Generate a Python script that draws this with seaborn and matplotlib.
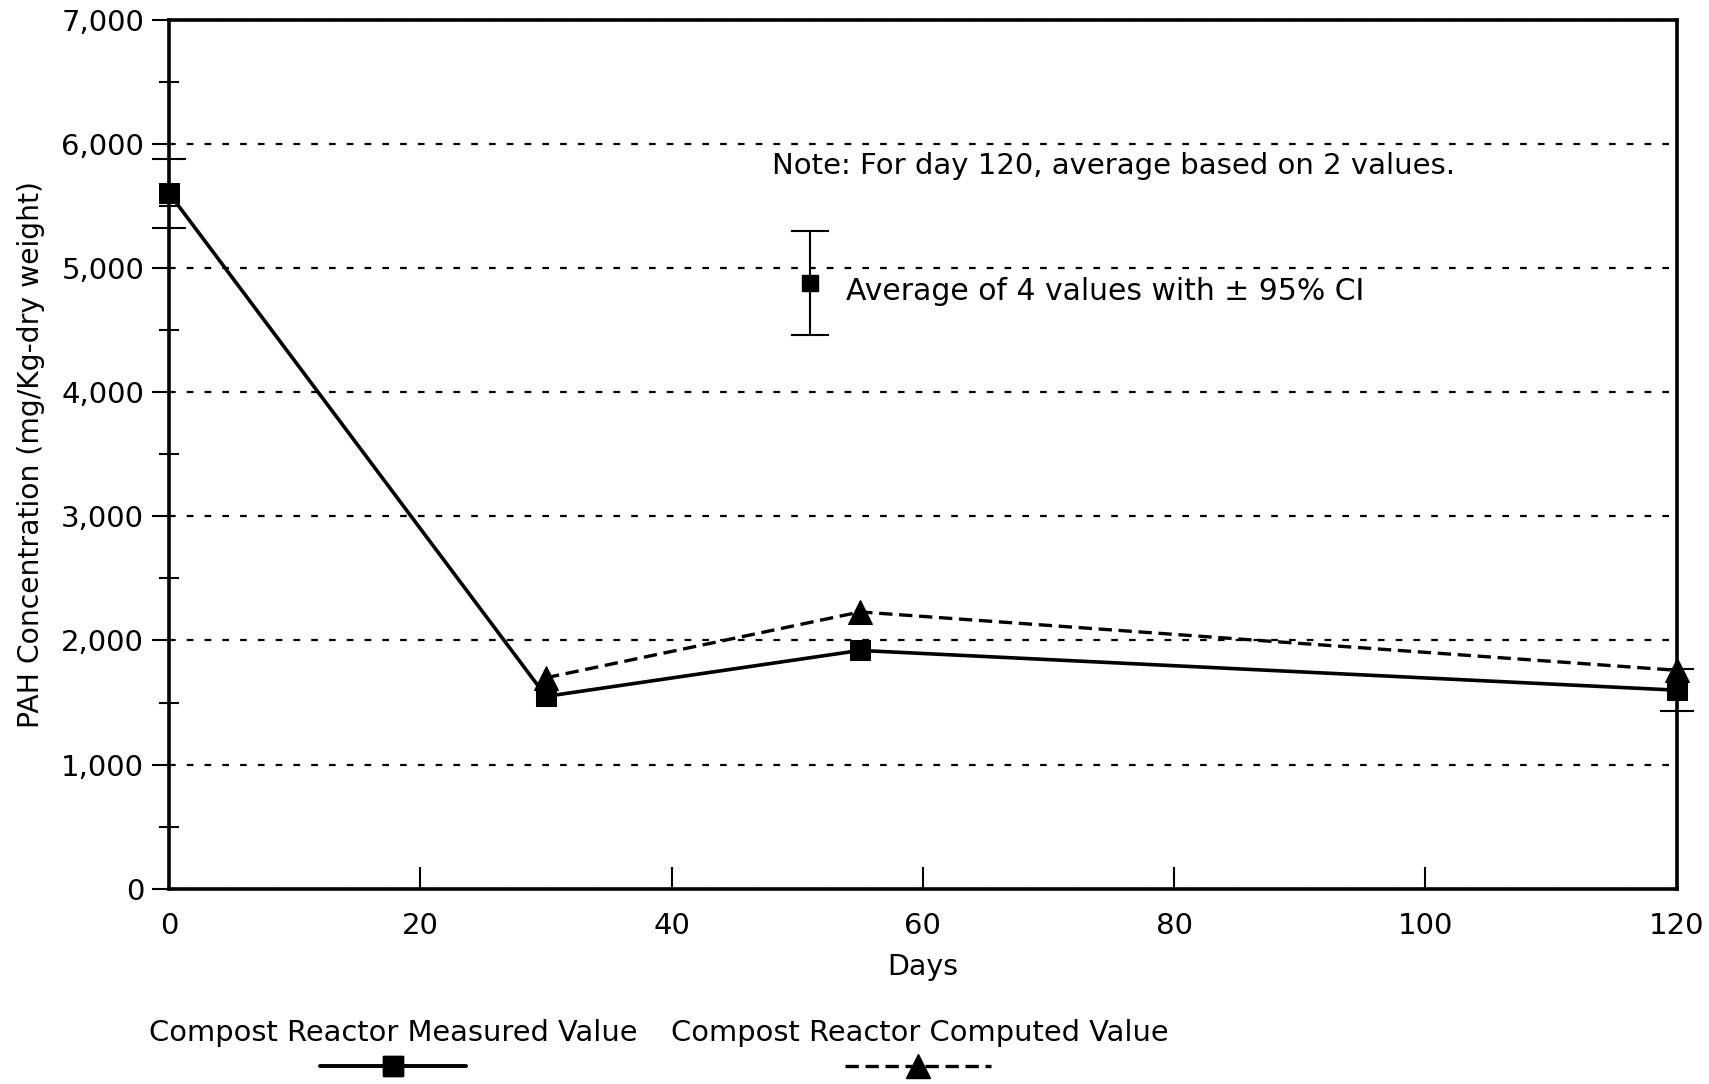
import matplotlib
matplotlib.use('Agg')
import matplotlib.pyplot as plt
from matplotlib.lines import Line2D
from matplotlib.ticker import MultipleLocator, FuncFormatter
import seaborn as sns
import pandas as pd

# data
days_measured = [0, 30, 55, 120]
pah_measured = [5600, 1550, 1920, 1600]
days_computed = [30, 55, 120]
pah_computed = [1700, 2230, 1760]

# 95% CI error bars that show outside the markers
ci_days = [0, 120]
ci_values = [5600, 1600]
ci_half = [280, 170]

# sample error bar used as a key
key_day = [51]
key_value = [4880]
key_half = [420]

note_text = "Note: For day 120, average based on 2 values."
key_text = "Average of 4 values with \u00b1 95% CI"
label_measured = "Compost Reactor Measured Value"
label_computed = "Compost Reactor Computed Value"

sns.set_style('ticks')
plt.rcParams['font.family'] = ['DejaVu Sans']
plt.rcParams['text.color'] = 'black'
plt.rcParams['axes.labelcolor'] = 'black'
plt.rcParams['xtick.color'] = 'black'
plt.rcParams['ytick.color'] = 'black'

measured = pd.DataFrame({'day': days_measured, 'pah': pah_measured})
computed = pd.DataFrame({'day': days_computed, 'pah': pah_computed})

fig = plt.figure(figsize=(17.09, 10.84), dpi=100)
ax = fig.add_axes([0.099, 0.180, 0.882, 0.802])

ax.yaxis.grid(True, color='black', linestyle=(0, (3, 5)), linewidth=1.6)
ax.set_axisbelow(True)

sns.lineplot(data=computed, x='day', y='pah', ax=ax, color='black',
             linewidth=2.4, linestyle=(0, (4, 2)), marker='^', markersize=17,
             markeredgecolor='black', clip_on=False, zorder=3)
sns.lineplot(data=measured, x='day', y='pah', ax=ax, color='black',
             linewidth=2.6, marker='s', markersize=14,
             markeredgecolor='black', clip_on=False, zorder=4)

ax.errorbar(ci_days, ci_values, yerr=ci_half, fmt='none', ecolor='black',
            elinewidth=1.5, capsize=12, capthick=1.5, clip_on=False, zorder=5)
ax.errorbar(key_day, key_value, yerr=key_half, fmt='s', color='black',
            markersize=12, elinewidth=1.5, capsize=14, capthick=1.5)

ax.text(48, 5820, note_text, fontsize=21, va='center', ha='left')
ax.text(53.9, 4810, key_text, fontsize=21.5, va='center', ha='left')

ax.set_xlim(0, 120)
ax.set_ylim(0, 7000)
ax.xaxis.set_major_locator(MultipleLocator(20))
ax.yaxis.set_major_locator(MultipleLocator(1000))
ax.yaxis.set_minor_locator(MultipleLocator(500))
ax.yaxis.set_major_formatter(FuncFormatter(lambda v, p: f"{int(v):,}"))

ax.tick_params(axis='x', direction='in', length=16, width=1.5, labelsize=21, pad=17)
ax.tick_params(axis='y', which='major', direction='out', length=12, width=1.5, labelsize=21, pad=6)
ax.tick_params(axis='y', which='minor', direction='inout', length=14, width=1.5)

for s in ax.spines.values():
    s.set_linewidth(2.6)
    s.set_color('black')

ax.set_xlabel('Days', fontsize=20.5, labelpad=9)
ax.set_ylabel('PAH Concentration (mg/Kg-dry weight)', fontsize=20.3, labelpad=12)

# legend: label text above its line key
fig.text(0.23, 0.047, label_measured, fontsize=20.8, ha='center', va='center')
fig.text(0.538, 0.047, label_computed, fontsize=20.8, ha='center', va='center')
h1 = Line2D([], [], color='black', linewidth=2.6, marker='s', markersize=14)
h2 = Line2D([], [], color='black', linewidth=2.4, linestyle=(0, (4, 2)),
            marker='^', markersize=17)
leg1 = fig.legend(handles=[h1], labels=[''], loc='center', bbox_to_anchor=(0.23, 0.015),
                  frameon=False, handlelength=7.5, handletextpad=0, borderpad=0, fontsize=14)
fig.add_artist(leg1)
fig.legend(handles=[h2], labels=[''], loc='center', bbox_to_anchor=(0.537, 0.015),
           frameon=False, handlelength=7.5, handletextpad=0, borderpad=0, fontsize=14)

fig.savefig('out.png', dpi=100)
